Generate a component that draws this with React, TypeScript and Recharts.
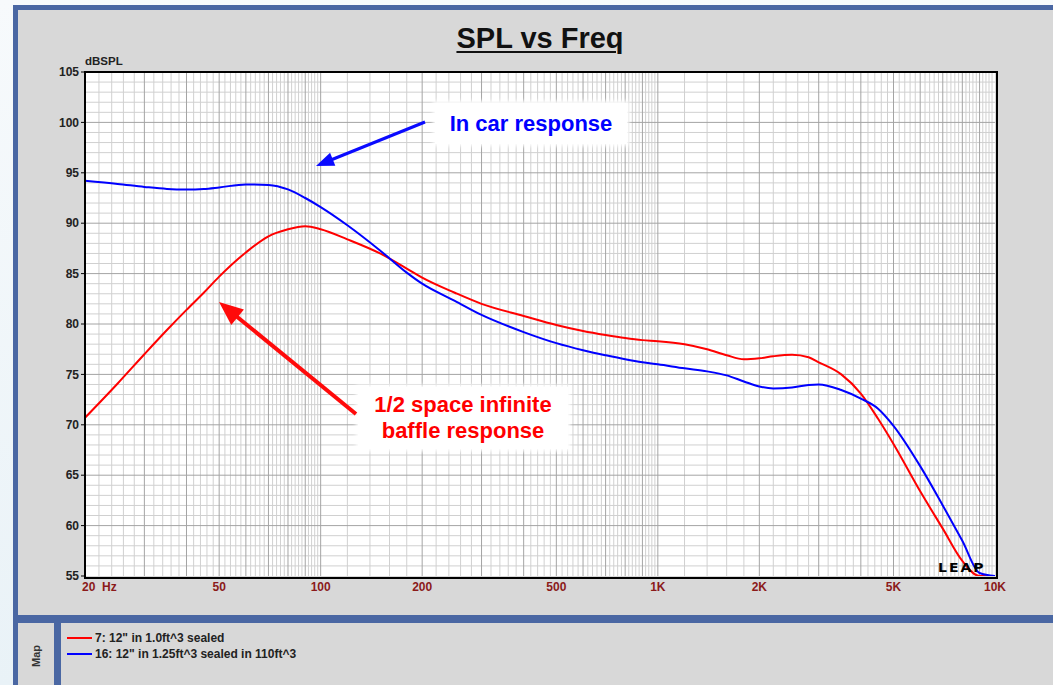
import React from 'react';
import { LineChart, Line, XAxis, YAxis, ReferenceLine } from 'recharts';

// frequency points (Hz) shared by both traces
const freqs = [
  20, 25, 30, 35, 40, 45, 50, 60, 70, 80, 90, 100, 120, 150, 180, 200, 250, 300, 400, 500,
  600, 700, 800, 900, 1000, 1200, 1400, 1600, 1800, 2000, 2200, 2500, 2800, 3000, 3500,
  4000, 4500, 5000, 6000, 7000, 8000, 9000, 10000,
];

// 7: 12" in 1.0ft^3 sealed (1/2 space infinite baffle)
const sealedSpl = [
  70.7, 74.1, 77.0, 79.4, 81.4, 83.1, 84.7, 87.1, 88.7, 89.4, 89.7, 89.4, 88.4, 87.0, 85.5, 84.6,
  83.1, 82.0, 80.8, 79.9, 79.3, 78.9, 78.6, 78.4, 78.3, 78.0, 77.5, 76.9, 76.5, 76.6, 76.8,
  76.95, 76.7, 76.2, 75.0, 73.1, 70.6, 68.1, 63.4, 59.7, 56.5, 55, 55,
];

// 16: 12" in 1.25ft^3 sealed in 110ft^3 (in car)
const inCarSpl = [
  94.2, 93.9, 93.6, 93.4, 93.35, 93.4, 93.55, 93.85, 93.8, 93.35, 92.5, 91.6, 89.8, 87.3, 85.1,
  84.0, 82.3, 80.9, 79.2, 78.1, 77.4, 76.9, 76.5, 76.2, 76.0, 75.6, 75.3, 74.9, 74.3, 73.8, 73.6,
  73.7, 73.95, 74.0, 73.45, 72.6, 71.6, 69.9, 65.9, 62.0, 58.5, 55.3, 55,
];

const xTicks = [20, 50, 100, 200, 500, 1000, 2000, 5000, 10000];
const xTickLabels = ['20  Hz', '50', '100', '200', '500', '1K', '2K', '5K', '10K'];
const yTicks = [55, 60, 65, 70, 75, 80, 85, 90, 95, 100, 105];

const legendItems = [
  { name: '7: 12" in 1.0ft^3 sealed', color: '#ff0000' },
  { name: '16: 12" in 1.25ft^3 sealed in 110ft^3', color: '#0000ff' },
];

const data = freqs.map((f, i) => ({ f, sealed: sealedSpl[i], car: inCarSpl[i] }));

// log paper grid
const minorX: number[] = [];
const majorX: number[] = [];
[10, 100, 1000].forEach((dec) => {
  const step = dec / 5;
  for (let f = dec === 10 ? 22 : dec + step; f < dec * 10; f += step) {
    if (f % dec === 0) majorX.push(f);
    else minorX.push(f);
  }
  if (dec > 10) majorX.push(dec);
});
const minorY: number[] = [];
const majorY: number[] = [];
for (let v = 56; v < 105; v++) {
  if (v % 5 === 0) majorY.push(v);
  else minorY.push(v);
}

const FONT = "Arial, 'Liberation Sans', sans-serif";
const BLUE_FRAME = '#4a67a3';
const PANEL = '#d8d8d8';

const XTick = (props: any) => {
  const { x, payload } = props;
  const idx = xTicks.indexOf(payload.value);
  const first = idx === 0;
  return (
    <text
      x={first ? x - 3 : x}
      y={591}
      textAnchor={first ? 'start' : 'middle'}
      fill="#8b1a1a"
      fontSize={12}
      fontWeight={700}
      fontFamily={FONT}
      style={{ whiteSpace: 'pre' }}
    >
      {xTickLabels[idx]}
    </text>
  );
};

const Arrow = ({ from, to, color, width, head, half }: any) => {
  const dx = to[0] - from[0];
  const dy = to[1] - from[1];
  const len = Math.hypot(dx, dy);
  const ux = dx / len;
  const uy = dy / len;
  const bx = to[0] - head * ux;
  const by = to[1] - head * uy;
  const nx = -uy;
  const ny = ux;
  const pts = `${to[0]},${to[1]} ${bx + half * nx},${by + half * ny} ${bx - half * nx},${by - half * ny}`;
  return (
    <g>
      <line x1={from[0]} y1={from[1]} x2={bx + ux * 2} y2={by + uy * 2} stroke={color} strokeWidth={width} />
      <polygon points={pts} fill={color} />
    </g>
  );
};

export default function App() {
  return (
    <div
      style={{
        position: 'absolute',
        left: 0,
        top: 0,
        width: 1053,
        height: 685,
        overflow: 'hidden',
        background: 'linear-gradient(180deg, #f7fafc 0%, #e9f2f7 100%)',
        fontFamily: FONT,
      }}
    >
      {/* frame */}
      <div style={{ position: 'absolute', left: 13, top: 5, width: 1060, height: 700, background: BLUE_FRAME }} />
      <div style={{ position: 'absolute', left: 18, top: 10, width: 1050, height: 605, background: PANEL }} />
      <div style={{ position: 'absolute', left: 18, top: 623, width: 36, height: 80, background: PANEL }} />
      <div style={{ position: 'absolute', left: 61, top: 623, width: 1000, height: 80, background: PANEL }} />

      {/* plot background */}
      <div style={{ position: 'absolute', left: 85, top: 72, width: 910, height: 504, background: '#ffffff' }} />

      {/* title */}
      <div
        style={{
          position: 'absolute',
          left: 340,
          width: 400,
          top: 22,
          textAlign: 'center',
          fontSize: 29,
          fontWeight: 700,
          color: '#111',
          textDecoration: 'underline',
          textDecorationThickness: 2,
          textUnderlineOffset: 3,
        }}
      >
        SPL vs Freq
      </div>
      <div style={{ position: 'absolute', left: 85, top: 55, fontSize: 11.5, fontWeight: 700, color: '#222' }}>dBSPL</div>

      <div style={{ position: 'absolute', left: 0, top: 0 }}>
        <LineChart
          width={1053}
          height={685}
          data={data}
          margin={{ top: 72, right: 58, bottom: 79, left: 45 }}
        >
          <XAxis
            dataKey="f"
            type="number"
            scale="log"
            domain={[20, 10000]}
            allowDataOverflow
            ticks={xTicks}
            tick={<XTick />}
            tickLine={false}
            axisLine={false}
            tickSize={0}
            height={30}
            interval={0}
          />
          <YAxis
            type="number"
            domain={[55, 105]}
            allowDataOverflow
            ticks={yTicks}
            interval={0}
            width={40}
            tickSize={4}
            tickMargin={2}
            axisLine={false}
            tickLine={{ stroke: '#000' }}
            tick={{ fill: '#222', fontSize: 12, fontWeight: 700, fontFamily: FONT }}
          />
          {minorY.map((v) => (
            <ReferenceLine key={'my' + v} y={v} stroke="#d0d0d0" strokeWidth={1} />
          ))}
          {minorX.map((f) => (
            <ReferenceLine key={'mx' + f} x={f} stroke="#d0d0d0" strokeWidth={1} />
          ))}
          {majorY.map((v) => (
            <ReferenceLine key={'My' + v} y={v} stroke="#a4a4a4" strokeWidth={1} />
          ))}
          {majorX.map((f) => (
            <ReferenceLine key={'Mx' + f} x={f} stroke="#a4a4a4" strokeWidth={1} />
          ))}
          <Line
            dataKey="sealed"
            type="monotone"
            stroke="#ff0000"
            strokeWidth={2}
            dot={false}
            isAnimationActive={false}
          />
          <Line
            dataKey="car"
            type="monotone"
            stroke="#0000ff"
            strokeWidth={2}
            dot={false}
            isAnimationActive={false}
          />
        </LineChart>
      </div>

      {/* plot border */}
      <div
        style={{
          position: 'absolute',
          left: 84,
          top: 71,
          width: 910,
          height: 504,
          border: '2px solid #000',
          boxSizing: 'content-box',
          pointerEvents: 'none',
        }}
      />

      {/* LEAP logo */}
      <div
        style={{
          position: 'absolute',
          left: 938,
          top: 560,
          fontFamily: "'DejaVu Sans', sans-serif",
          fontSize: 14,
          fontWeight: 700,
          letterSpacing: 2,
          color: '#000',
          transform: 'scaleY(0.85)',
        }}
      >
        LEAP
      </div>

      {/* annotations */}
      <div
        style={{
          position: 'absolute',
          left: 435,
          top: 103,
          width: 192,
          height: 41,
          background: '#fff',
          boxShadow: '0 0 4px 2px #fff',
          color: '#0000ff',
          fontSize: 22,
          fontWeight: 700,
          textAlign: 'center',
          lineHeight: '41px',
        }}
      >
        In car response
      </div>
      <div
        style={{
          position: 'absolute',
          left: 358,
          top: 387,
          width: 210,
          height: 62,
          background: '#fff',
          boxShadow: '0 0 4px 2px #fff',
          color: '#ff0000',
          fontSize: 22,
          fontWeight: 700,
          textAlign: 'center',
          lineHeight: '26px',
          paddingTop: 5,
          boxSizing: 'border-box',
        }}
      >
        1/2 space infinite
        <br />
        baffle response
      </div>
      <svg
        width={1053}
        height={685}
        style={{ position: 'absolute', left: 0, top: 0, pointerEvents: 'none' }}
      >
        <Arrow from={[425, 122]} to={[316, 166]} color="#0a0aff" width={3} head={18} half={7} />
        <Arrow from={[356, 414]} to={[219, 302]} color="#ff0a0a" width={4} head={24} half={10} />
      </svg>

      {/* legend panel */}
      <div
        style={{
          position: 'absolute',
          left: 36,
          top: 656,
          transform: 'translate(-50%, -50%) rotate(-90deg)',
          fontSize: 11,
          fontWeight: 700,
          color: '#333',
        }}
      >
        Map
      </div>
      {legendItems.map((item, i) => (
        <div
          key={item.name}
          style={{ position: 'absolute', left: 67, top: 631 + i * 16, display: 'flex', alignItems: 'center' }}
        >
          <div style={{ width: 25, height: 2, background: item.color, marginRight: 3 }} />
          <span style={{ fontSize: 12, fontWeight: 700, color: '#222', whiteSpace: 'pre' }}>{item.name}</span>
        </div>
      ))}
    </div>
  );
}
